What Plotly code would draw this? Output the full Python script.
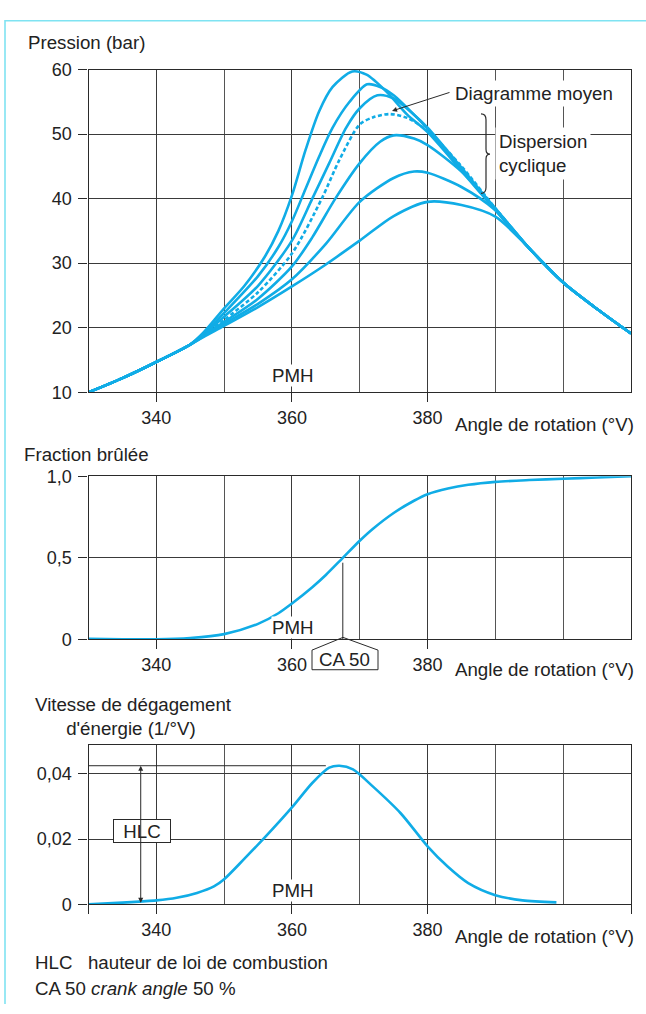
import numpy as np
import plotly.graph_objects as go

W, H = 646, 1014

# ---------------- data ----------------
# Pressure curves (bar) vs crank angle (°V)
ang_a = [330, 335, 340, 345, 347, 350, 353, 356, 358, 360, 362, 364, 366, 368.9, 371, 374, 377, 380, 385, 390, 395, 400, 405, 410]
p_a = [10, 12.2, 14.7, 17.4, 19.3, 23, 26.5, 31, 35, 40.5, 47.5, 53.5, 57.3, 59.7, 59.2, 56.5, 53, 50.3, 44.3, 38.2, 32.3, 27, 22.9, 19.1]

ang_b = [330, 335, 340, 345, 347, 350, 355, 358, 360, 362, 364, 366, 368.5, 371.1, 373, 375, 378, 380, 385, 390, 395, 400, 405, 410]
p_b = [10, 12.2, 14.7, 17.4, 19.1, 22.3, 28, 32.5, 36.5, 41.5, 46.5, 51, 55, 57.7, 57.3, 56, 53, 50.8, 44.5, 38.3, 32.3, 27, 22.9, 19.1]

ang_c = [330, 335, 340, 345, 347, 350, 355, 360, 363, 365.5, 368, 370, 372.6, 375, 378, 380, 385, 390, 395, 400, 405, 410]
p_c = [10, 12.2, 14.7, 17.4, 19.0, 21.7, 26.5, 33.5, 40, 45.5, 51, 54, 56, 55.5, 53, 51, 44.8, 38.4, 32.3, 27, 22.9, 19.1]

ang_m = [330, 335, 340, 345, 347, 350, 355, 360, 364.4, 367, 370, 372, 374.4, 377, 380, 385, 390, 395, 400, 405, 410]
p_m = [10, 12.2, 14.7, 17.4, 18.9, 21.2, 25.5, 31.5, 40, 46, 51.5, 52.6, 53.1, 52.5, 50.5, 45, 38.5, 32.3, 27, 22.9, 19.1]

ang_d = [330, 335, 340, 345, 347, 350, 355, 360, 363, 366.4, 370, 373, 375, 378, 380, 385, 390, 395, 400, 405, 410]
p_d = [10, 12.2, 14.7, 17.4, 18.8, 20.9, 24.5, 29.5, 34, 40, 45.5, 48.8, 49.8, 49.3, 48.3, 44.2, 38.5, 32.3, 27, 22.9, 19.1]

ang_e = [330, 335, 340, 345, 347, 350, 355, 360, 365, 370, 375, 378, 380, 385, 390, 395, 400, 405, 410]
p_e = [10, 12.2, 14.7, 17.4, 18.7, 20.6, 23.7, 27.5, 33, 39.5, 43.2, 44.2, 44, 41.8, 38.2, 32.3, 27, 22.9, 19.1]

ang_f = [330, 335, 340, 345, 347, 350, 355, 360, 365, 370, 375, 380, 385, 390, 395, 400, 405, 410]
p_f = [10, 12.2, 14.7, 17.4, 18.6, 20.3, 23.2, 26.4, 29.8, 33.5, 37.3, 39.5, 39, 37.2, 32.3, 27, 22.9, 19.1]

# Burned fraction
ang_x = [330, 335, 340, 345, 350, 355, 358, 360, 363, 365, 367.5, 370, 372, 375, 378, 380, 383, 386, 390, 395, 400, 405, 410]
frac = [0.004, 0.001, 0, 0.008, 0.032, 0.095, 0.16, 0.22, 0.32, 0.395, 0.5, 0.605, 0.68, 0.775, 0.85, 0.89, 0.925, 0.948, 0.966, 0.977, 0.985, 0.993, 1.0]

# Heat release rate (1/°V)
ang_q = [330, 335, 338, 340, 343, 346, 348.5, 350, 353, 356, 360, 363, 365.5, 367, 369, 372, 376, 380, 383, 386, 390, 394, 399]
hrr = [0, 0.0005, 0.0009, 0.0012, 0.002, 0.0035, 0.0055, 0.0077, 0.014, 0.0205, 0.0297, 0.0372, 0.0419, 0.0425, 0.0414, 0.036, 0.028, 0.0178, 0.0115, 0.0065, 0.0028, 0.0012, 0.0006]

x_ticks = [340, 360, 380]
x_minor = [350, 370, 390, 400]
p_ticks = [10, 20, 30, 40, 50, 60]
f_ticks = [0, 0.5, 1.0]
f_text = ["0", "0,5", "1,0"]
q_ticks = [0, 0.02, 0.04]
q_text = ["0", "0,02", "0,04"]

# ---------------- style ----------------
BLUE = "#10ace6"
GRID = "#3a3a3a"
AX = "#2a2a2a"
TXT = "#222222"
FONT = "Liberation Sans, Arial, sans-serif"
FS = 18
FT = 18.7


def px(x):
    return x / W


def py(y):
    return 1 - y / H


fig = go.Figure()

curves = [(ang_a, p_a, "solid"), (ang_b, p_b, "solid"), (ang_c, p_c, "solid"),
          (ang_m, p_m, "dash"), (ang_d, p_d, "solid"), (ang_e, p_e, "solid"), (ang_f, p_f, "solid")]
for xs, ys, dash in curves:
    fig.add_trace(go.Scatter(x=xs, y=ys, mode="lines", xaxis="x", yaxis="y",
                             line=dict(color=BLUE, width=2.6, dash=dash if dash == "solid" else "4px,2.5px",
                                       shape="spline", smoothing=0.8),
                             showlegend=False, hoverinfo="skip"))

fig.add_trace(go.Scatter(x=ang_x, y=frac, mode="lines", xaxis="x2", yaxis="y2",
                         line=dict(color=BLUE, width=2.6, shape="spline", smoothing=0.8),
                         showlegend=False, hoverinfo="skip"))
fig.add_trace(go.Scatter(x=ang_q, y=hrr, mode="lines", xaxis="x3", yaxis="y3",
                         line=dict(color=BLUE, width=2.6, shape="spline", smoothing=0.8),
                         showlegend=False, hoverinfo="skip"))

xdom = [px(88.5), px(631)]


def xaxis(anchor, extra_edges=False):
    tv = list(x_ticks)
    tt = [str(v) for v in x_ticks]
    if extra_edges:
        tv = [330] + tv + [410]
        tt = [""] + tt + [""]
    return dict(domain=xdom, anchor=anchor, range=[330, 410], tickvals=tv, ticktext=tt,
                ticks="outside", ticklen=9, tickwidth=1.2, tickcolor=AX,
                showline=True, linecolor=AX, linewidth=1.2, mirror=True,
                showgrid=True, gridcolor=GRID, gridwidth=1, zeroline=False,
                minor=dict(tickvals=x_minor, showgrid=True, gridcolor="#555555", gridwidth=1, ticks=""),
                tickfont=dict(family=FONT, size=FS, color=TXT), fixedrange=True)


def yaxis(anchor, dom, rng, tv, tt):
    return dict(domain=dom, anchor=anchor, range=rng, tickvals=tv, ticktext=tt,
                ticks="outside", ticklen=9, tickwidth=1.2, tickcolor=AX,
                showline=True, linecolor=AX, linewidth=1.2, mirror=True,
                showgrid=True, gridcolor=GRID, gridwidth=1, zeroline=False,
                tickfont=dict(family=FONT, size=FS, color=TXT), ticklabelstandoff=3, fixedrange=True)


fig.update_layout(
    width=W, height=H, margin=dict(l=0, r=0, t=0, b=0),
    paper_bgcolor="white", plot_bgcolor="white",
    font=dict(family=FONT, size=FT, color=TXT),
    xaxis=xaxis("y"),
    yaxis=yaxis("x", [py(390), py(60.7)], [10, 60], p_ticks, [str(v) for v in p_ticks]),
    xaxis2=xaxis("y2"),
    yaxis2=yaxis("x2", [py(642), py(475.7)], [0, 1.0], f_ticks, f_text),
    xaxis3=xaxis("y3", extra_edges=True),
    yaxis3=yaxis("x3", [py(912.3), py(749.3)], [0, 0.049], q_ticks, q_text),
)

ann = []


def text(t, x, y, xanchor="left", bg=None, **kw):
    d = dict(text=t, x=px(x), y=py(y), xref="paper", yref="paper", showarrow=False,
             xanchor=xanchor, yanchor="middle", font=dict(family=FONT, size=FT, color=TXT))
    if bg:
        d["bgcolor"] = bg
    d.update(kw)
    ann.append(d)


NB = "\u00a0"
text("Pression (bar)", 26, 33)
text("Fraction brûlée", 22, 453)
text("Vitesse de dégagement<br>" + NB * 6 + "d'énergie (1/°V)", 33, 721, align="left")
for yy in (423, 673, 945):
    text("Angle de rotation (°V)", 636, yy, xanchor="right")
for yy in (373, 630, 898):
    text("PMH", 293, yy, xanchor="center", bg="white", borderpad=0)
text("Diagramme moyen", 452, 85, bg="white", borderpad=2)
text("Dispersion<br>cyclique", 495, 146, bg="white", borderpad=3, align="left")
text("HLC" + NB * 3 + "hauteur de loi de combustion", 33, 972)
text("CA 50 <i>crank angle</i> 50 %", 33, 998)
text("HLC", 142, 838, xanchor="center", bg="white", bordercolor=AX, borderwidth=1,
     borderpad=1, width=54, height=20)
text("CA 50", 345, 663, xanchor="center")

# arrow to mean diagram
ann.append(dict(text="", x=px(392), y=py(103), xref="paper", yref="paper", showarrow=True,
                ax=59, ay=-19, arrowhead=2, arrowsize=1, arrowwidth=1, arrowcolor=AX))

# HLC double arrow
hlc = max(hrr)
ann.append(dict(text="", x=337.7, y=hlc, xref="x3", yref="y3", showarrow=True,
                ax=337.7, ay=0, axref="x3", ayref="y3", arrowhead=2, startarrowhead=2,
                arrowside="end+start", arrowsize=1, startarrowsize=1, arrowwidth=1, arrowcolor=AX))

fig.update_layout(annotations=ann)

shapes = []
# outer cyan frame
shapes.append(dict(type="path", xref="paper", yref="paper",
                   path=f"M {px(5)},{py(1014)} L {px(5)},{py(11)} L {px(646)},{py(11)}",
                   line=dict(color="#7fe3f2", width=1.6)))
# HLC horizontal line
shapes.append(dict(type="line", xref="x3", yref="y3", x0=330, x1=365, y0=hlc, y1=hlc,
                   line=dict(color=AX, width=1)))
# CA50 vertical line
ca50 = float(np.interp(0.5, frac, ang_x))
shapes.append(dict(type="line", xref="x2", yref="y2", x0=ca50, x1=ca50, y0=0, y1=0.47,
                   line=dict(color=AX, width=1)))
# CA50 pentagon label frame
pent = [(343, 640), (378, 653), (378, 673), (312, 673), (312, 653)]
path = "M " + " L ".join(f"{px(a)},{py(b)}" for a, b in pent) + " Z"
shapes.append(dict(type="path", xref="paper", yref="paper", path=path,
                   line=dict(color=AX, width=1), fillcolor="rgba(0,0,0,0)"))
# curly brace
bx, top, mid, bot = 481, 106, 147, 187
brace = (f"M {px(bx)},{py(top)} Q {px(bx+5)},{py(top)} {px(bx+5)},{py(top+6)} "
         f"L {px(bx+5)},{py(mid-5)} Q {px(bx+5)},{py(mid)} {px(bx+9)},{py(mid)} "
         f"Q {px(bx+5)},{py(mid)} {px(bx+5)},{py(mid+5)} "
         f"L {px(bx+5)},{py(bot-6)} Q {px(bx+5)},{py(bot)} {px(bx)},{py(bot)}")
shapes.append(dict(type="path", xref="paper", yref="paper", path=brace,
                   line=dict(color=AX, width=1.2)))
fig.update_layout(shapes=shapes)

fig.write_html("out.html")
